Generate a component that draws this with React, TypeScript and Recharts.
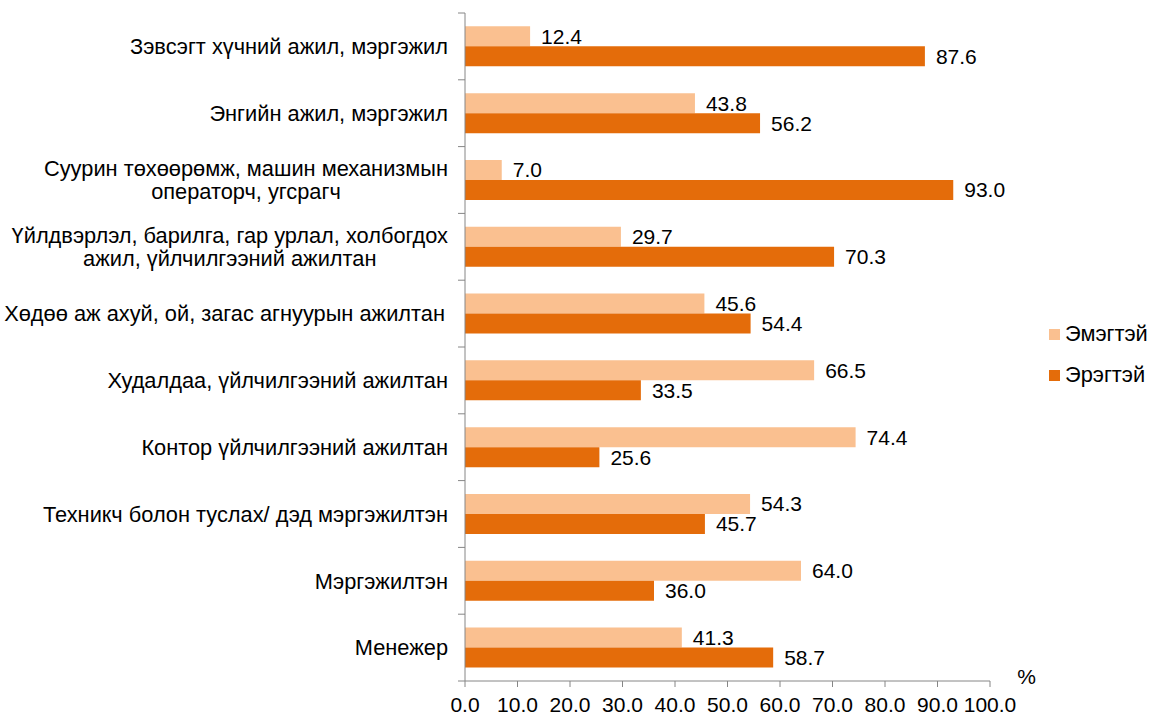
import React from 'react';
import { BarChart, Bar, XAxis, YAxis, Legend, LabelList, Label } from 'recharts';

const categories = [
  'Зэвсэгт хүчний ажил, мэргэжил',
  'Энгийн ажил, мэргэжил',
  'Суурин төхөөрөмж, машин механизмын\nоператорч, угсрагч',
  'Үйлдвэрлэл, барилга, гар урлал, холбогдох\nажил, үйлчилгээний ажилтан',
  'Хөдөө аж ахуй, ой,  загас агнуурын ажилтан',
  'Худалдаа, үйлчилгээний ажилтан',
  'Контор үйлчилгээний ажилтан',
  'Техникч болон туслах/ дэд мэргэжилтэн',
  'Мэргэжилтэн',
  'Менежер',
];
const female = [12.4, 43.8, 7.0, 29.7, 45.6, 66.5, 74.4, 54.3, 64.0, 41.3];
const male = [87.6, 56.2, 93.0, 70.3, 54.4, 33.5, 25.6, 45.7, 36.0, 58.7];
const xTicks = [0, 10, 20, 30, 40, 50, 60, 70, 80, 90, 100];
const seriesNames = { female: 'Эмэгтэй', male: 'Эрэгтэй' };

const data = categories.map((c, i) => ({ name: c, female: female[i], male: male[i] }));

const FONT = "'Liberation Sans', Arial, sans-serif";
const FS = 21;
const FS_CAT = 21.8;
const W = 1151;
const H = 717;
const M_TOP = 13;
const X_AXIS_H = 36;
const BAND = (H - M_TOP - X_AXIS_H) / categories.length;
const AXIS_COLOR = '#868686';
const C_LIGHT = '#FAC090';
const C_DARK = '#E46C0A';

let ctx: CanvasRenderingContext2D | null = null;
const measure = (s: string) => {
  if (!ctx) {
    const c = document.createElement('canvas');
    ctx = c.getContext('2d');
  }
  if (!ctx) return s.length * FS_CAT * 0.55;
  ctx.font = `${FS_CAT}px ${FONT}`;
  return ctx.measureText(s).width;
};

const YTick = (props: any) => {
  const { x, y, payload, index } = props;
  const lines = String(payload.value).split('\n');
  const lh = 23.5;
  const maxW = Math.max(...lines.map(measure));
  const right = x - 17;
  const cx = right - maxW / 2;
  const n = lines.length;
  return (
    <g>
      <line x1={x - 7} x2={x} y1={y - BAND / 2} y2={y - BAND / 2} stroke={AXIS_COLOR} />
      {index === categories.length - 1 && (
        <line x1={x - 7} x2={x} y1={y + BAND / 2} y2={y + BAND / 2} stroke={AXIS_COLOR} />
      )}
      <text textAnchor="middle" fontFamily={FONT} fontSize={FS_CAT} fill="#000">
        {lines.map((l, i) => (
          <tspan key={i} x={cx} y={y + (i - (n - 1) / 2) * lh} dy="0.355em">
            {l}
          </tspan>
        ))}
      </text>
    </g>
  );
};

const LegendContent = () => (
  <div style={{ fontFamily: FONT, fontSize: FS_CAT, color: '#000' }}>
    {[
      { name: seriesNames.female, color: C_LIGHT },
      { name: seriesNames.male, color: C_DARK },
    ].map((it, i) => (
      <div key={i} style={{ display: 'flex', alignItems: 'center', height: 24, marginBottom: i === 0 ? 17 : 0 }}>
        <span style={{ display: 'inline-block', width: 11, height: 11, background: it.color, marginRight: 5 }} />
        <span>{it.name}</span>
      </div>
    ))}
  </div>
);

export default function App() {
  return (
    <div style={{ position: 'absolute', left: 0, top: 0, width: W, height: H, background: '#fff' }}>
      <BarChart
        width={W}
        height={H}
        data={data}
        layout="vertical"
        margin={{ top: M_TOP, right: W - 990, bottom: 0, left: 0 }}
        barCategoryGap="20%"
        barGap={0}
      >
        <XAxis
          type="number"
          domain={[0, 100]}
          ticks={xTicks}
          interval={0}
          height={X_AXIS_H}
          tickFormatter={(v: number) => v.toFixed(1)}
          stroke={AXIS_COLOR}
          tickSize={6}
          tickMargin={10}
          tick={{ fill: '#000', fontSize: FS, fontFamily: FONT }}
        >
          <Label
            content={(p: any) => {
              const vb = p.viewBox || {};
              return (
                <text x={vb.x + vb.width + 36.5} y={vb.y + 3} textAnchor="middle" fontFamily={FONT} fontSize={FS} fill="#000">
                  %
                </text>
              );
            }}
          />
        </XAxis>
        <YAxis
          type="category"
          dataKey="name"
          width={465}
          stroke={AXIS_COLOR}
          tickLine={false}
          tickSize={0}
          tickMargin={0}
          interval={0}
          tick={<YTick />}
        />
        <Legend
          layout="horizontal"
          verticalAlign="middle"
          align="center"
          content={<LegendContent />}
          wrapperStyle={{ left: 1049, top: 322, width: 102 }}
        />
        <Bar dataKey="female" name={seriesNames.female} fill={C_LIGHT} isAnimationActive={false}>
          <LabelList
            dataKey="female"
            position="right"
            offset={11}
            formatter={(v: any) => Number(v).toFixed(1)}
            style={{ fill: '#000', fontSize: FS, fontFamily: FONT }}
          />
        </Bar>
        <Bar dataKey="male" name={seriesNames.male} fill={C_DARK} isAnimationActive={false}>
          <LabelList
            dataKey="male"
            position="right"
            offset={11}
            formatter={(v: any) => Number(v).toFixed(1)}
            style={{ fill: '#000', fontSize: FS, fontFamily: FONT }}
          />
        </Bar>
      </BarChart>
    </div>
  );
}
